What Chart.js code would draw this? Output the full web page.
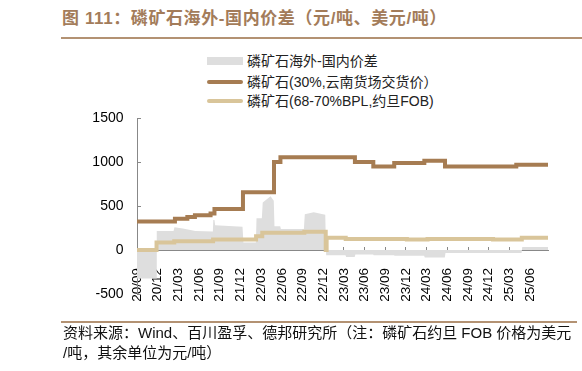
<!DOCTYPE html>
<html><head><meta charset="utf-8">
<script src="https://cdn.jsdelivr.net/npm/chart.js@4/dist/chart.umd.min.js"></script>
<style>
html,body{margin:0;padding:0;background:#fff;}
body{width:582px;height:371px;position:relative;overflow:hidden;font-family:"Liberation Sans","Noto Sans CJK SC",sans-serif;}
#title{position:absolute;left:62px;top:7px;font-size:17px;letter-spacing:0.6px;font-weight:bold;color:#a37c5a;white-space:nowrap;line-height:24px;}
#tline{position:absolute;left:61px;top:37px;width:521px;height:2px;background:#b39273;}
#fline{position:absolute;left:61px;top:321px;width:516px;height:2px;background:#b39273;}
#foot{position:absolute;left:63px;top:323px;font-size:15px;line-height:20px;color:#111;white-space:nowrap;}
#legend{position:absolute;left:207px;top:0;font-size:14px;color:#222;}
.li{position:absolute;left:0;height:20px;width:300px;white-space:nowrap;line-height:20px}
.sw{position:absolute;left:0;width:36px;}
.tx{position:absolute;left:40px;top:0;}
canvas{position:absolute;left:0;top:0;}
</style></head>
<body>
<div id="title">图 111：磷矿石海外-国内价差（元/吨、美元/吨）</div>
<div id="tline"></div>
<div id="legend"></div>
<canvas id="c" width="582" height="371"></canvas>
<div id="fline"></div>
<div id="foot">资料来源：Wind、百川盈孚、德邦研究所（注：磷矿石约旦 FOB 价格为美元<br>/吨，其余单位为元/吨）</div>
<script>
// ---- data ----
const seriesNames = ['磷矿石海外-国内价差', '磷矿石(30%,云南货场交货价）', '磷矿石(68-70%BPL,约旦FOB)'];
const xTickLabels = ['20/09','20/12','21/03','21/06','21/09','21/12','22/03','22/06','22/09','22/12','23/03','23/06','23/09','23/12','24/03','24/06','24/09','24/12','25/03','25/06'];
const yTicks = [-500, 0, 500, 1000, 1500];

// domestic 30% Yunnan (value in force from each date)
const domDates  = ['2020-09-01','2021-02-16','2021-04-10','2021-05-13','2021-07-21','2021-08-08','2021-12-12','2022-04-27','2022-05-25','2023-04-19','2023-07-09','2023-10-10','2024-02-21','2024-05-21','2025-04-01','2025-08-19'];
const domValues = [325, 355, 375, 395, 415, 465, 655, 1000, 1055, 1000, 950, 990, 1015, 950, 970, 970];

// Jordan FOB (value in force from each date)
const fobDates  = ['2020-09-01','2020-11-26','2021-02-13','2021-08-02','2022-02-09','2022-03-06','2022-09-09','2022-12-12','2022-12-16','2023-03-09','2023-12-05','2024-03-05','2024-12-20','2025-04-25','2025-08-19'];
const fobValues = [0, 85, 100, 120, 155, 195, 208, 0, 140, 125, 120, 125, 120, 140, 140];

// overseas - domestic spread (area)
const spreadDates  = ['2020-09-01','2020-11-24','2020-11-27','2021-02-10','2021-02-14','2021-03-20','2021-05-15','2021-07-31','2021-08-03','2021-08-08','2021-08-11','2021-12-10','2021-12-14','2022-02-08','2022-02-11','2022-03-04','2022-03-08','2022-04-12','2022-04-26','2022-04-29','2022-05-24','2022-05-27','2022-09-07','2022-09-11','2022-10-20','2022-12-10','2022-12-14','2023-03-08','2023-03-11','2023-04-18','2023-04-21','2023-07-08','2023-07-11','2023-10-09','2023-10-12','2024-02-20','2024-02-23','2024-05-20','2024-05-23','2025-04-24','2025-04-27','2025-08-19'];
const spreadValues = [-325, -325, 215, 215, 258, 245, 215, 210, 340, 340, 280, 265, 85, 85, 360, 360, 540, 610, 560, 270, 270, 240, 240, 405, 430, 400, -60, -60, -80, -80, -50, -50, -60, -60, -65, -65, -85, -85, -35, -35, 35, 35];

// ---- helpers ----
function toM(s){ const p = s.split('-').map(Number); return (p[0]-2020)*12 + (p[1]-9) + (p[2]-1)/30; }
function pts(d, v){ return d.map((s,i)=>({x: toM(s), y: v[i]})); }

const colors = { spread: '#dedede', dom: '#a67c52', fob: '#d9c59a' };

// HTML legend
const legendEl = document.getElementById('legend');
const legendSpecs = [
  {top: 51, sw: 'top:6px;height:8px;background:' + colors.spread},
  {top: 72, sw: 'top:8px;height:4px;border-radius:2px;background:' + colors.dom},
  {top: 91, sw: 'top:8px;height:4px;border-radius:2px;background:' + colors.fob}
];
legendSpecs.forEach((s,i)=>{
  const d = document.createElement('div'); d.className='li'; d.style.top = s.top+'px';
  d.innerHTML = '<div class="sw" style="'+s.sw+'"></div><div class="tx"></div>';
  d.querySelector('.tx').textContent = seriesNames[i];
  legendEl.appendChild(d);
});

Chart.defaults.font.family = '"Liberation Sans", Arial, sans-serif';
Chart.defaults.color = '#000';

new Chart(document.getElementById('c'), {
  type: 'line',
  data: {
    datasets: [
      { label: seriesNames[1], data: pts(domDates, domValues), stepped: 'before', borderColor: colors.dom, borderWidth: 4, pointRadius: 0, fill: false, order: 1 },
      { label: seriesNames[2], data: pts(fobDates, fobValues), stepped: 'before', borderColor: colors.fob, borderWidth: 4, pointRadius: 0, fill: false, order: 2 },
      { label: seriesNames[0], data: pts(spreadDates, spreadValues), borderWidth: 0, borderColor: 'rgba(0,0,0,0)', backgroundColor: colors.spread, pointRadius: 0, fill: 'origin', tension: 0, order: 3 }
    ]
  },
  options: {
    responsive: false, animation: false, devicePixelRatio: 1,
    layout: { padding: { left: 0, right: 34, top: 118, bottom: 77 } },
    plugins: { legend: { display: false }, tooltip: { enabled: false }, title: { display: false } },
    scales: {
      x: {
        type: 'linear', min: 0, max: 59.6, position: { y: 0 },
        grid: { drawOnChartArea: false, drawTicks: true, tickLength: -4, color: '#888' },
        border: { display: true, color: '#888', width: 1 },
        ticks: { stepSize: 3, includeBounds: false, autoSkip: false, minRotation: 90, maxRotation: 90, padding: 22, font: { size: 13.5 }, color: '#000',
          callback: (v) => xTickLabels[Math.round(v/3)] },
        afterFit: (s) => { s.paddingLeft = 0; s.paddingRight = 0; s.paddingTop = 0; s.paddingBottom = 0; }
      },
      y: {
        min: -500, max: 1500,
        grid: { drawOnChartArea: false, drawTicks: true, tickLength: -4, color: '#888' },
        border: { display: true, color: '#888', width: 1 },
        afterBuildTicks: (s) => { s.ticks = yTicks.map(v => ({value: v})); },
        ticks: { padding: 17.5, font: { size: 14 }, color: '#000', callback: (v) => String(v) },
        afterFit: (s) => { s.width = 137; s.paddingTop = 0; s.paddingBottom = 0; }
      }
    }
  }
});
</script>
</body></html>
